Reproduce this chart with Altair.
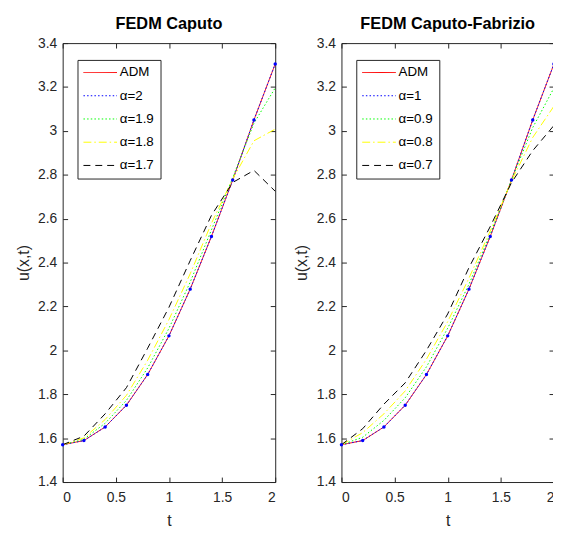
import altair as alt
import pandas as pd

# ---------------- data ----------------
t = [0.0, 0.2, 0.4, 0.6, 0.8, 1.0, 1.2, 1.4, 1.6, 1.8, 2.0]
adm = [1.570, 1.589, 1.651, 1.750, 1.890, 2.066, 2.279, 2.519, 2.776, 3.050, 3.305]

# FEDM Caputo
cap_names = ["ADM", "α=2", "α=1.9", "α=1.8", "α=1.7"]
cap_a20 = [1.570, 1.589, 1.651, 1.750, 1.890, 2.066, 2.279, 2.519, 2.776, 3.050, 3.305]
cap_a19 = [1.570, 1.595, 1.668, 1.772, 1.920, 2.100, 2.311, 2.549, 2.786, 3.035, 3.196]
cap_a18 = [1.570, 1.601, 1.685, 1.795, 1.955, 2.140, 2.349, 2.579, 2.781, 2.955, 3.008]
cap_a17 = [1.570, 1.609, 1.711, 1.830, 2.010, 2.196, 2.409, 2.615, 2.765, 2.820, 2.725]

# FEDM Caputo-Fabrizio
cf_names = ["ADM", "α=1", "α=0.9", "α=0.8", "α=0.7"]
cf_a10 = [1.570, 1.589, 1.651, 1.750, 1.890, 2.066, 2.279, 2.519, 2.776, 3.050, 3.305]
cf_a09 = [1.570, 1.604, 1.681, 1.784, 1.925, 2.101, 2.301, 2.531, 2.776, 3.015, 3.196]
cf_a08 = [1.570, 1.625, 1.711, 1.815, 1.960, 2.131, 2.329, 2.544, 2.771, 2.970, 3.113]
cf_a07 = [1.570, 1.643, 1.755, 1.852, 2.000, 2.166, 2.377, 2.564, 2.764, 2.910, 3.025]

x_ticks = [0, 0.5, 1, 1.5, 2]
y_ticks = [1.4, 1.6, 1.8, 2.0, 2.2, 2.4, 2.6, 2.8, 3.0, 3.2, 3.4]

colors = ["#ff0000", "#0000ff", "#00ff00", "#ffff00", "#000000"]
dashes = [[1, 0], [1.5, 2.2], [1.5, 2.2], [8, 3, 1.5, 3], [7, 5]]

# ---------------- layout / style ----------------
W, H = 215, 444
AX = "#262626"
FONT = "Liberation Sans"


def panel(title, names, series):
    rows = []
    for name, vals in zip(names, series):
        for ti, v in zip(t, vals):
            rows.append({"t": ti, "u": v, "series": name})
    df = pd.DataFrame(rows)
    mk = pd.DataFrame({"t": t, "u": series[1]})

    xs = alt.Scale(domain=[0, 2], nice=False, zero=False)
    ys = alt.Scale(domain=[1.4, 3.4], nice=False, zero=False)

    leg = alt.Legend(
        title=None, orient="none", legendX=15, legendY=17,
        symbolType="M-3,0H3", symbolSize=128, symbolStrokeWidth=1,
        symbolOffset=10.25, labelOffset=13,
        labelFont=FONT, labelFontSize=13.5, labelColor="#000000",
        padding=6, rowPadding=8.5, strokeColor=AX, fillColor="white",
    )

    lines = alt.Chart(df).mark_line(strokeWidth=1).encode(
        x=alt.X("t:Q", scale=xs, title="t",
                axis=alt.Axis(orient="bottom", values=x_ticks, format=".1~f",
                              ticks=False, tickSize=0, domain=False, grid=False,
                              labelPadding=9, titlePadding=7.5)),
        y=alt.Y("u:Q", scale=ys, title="u(x,t)",
                axis=alt.Axis(orient="left", values=y_ticks, format=".1~f",
                              ticks=False, tickSize=0, domain=False, grid=False,
                              labelPadding=6, titlePadding=6.5)),
        color=alt.Color("series:N", scale=alt.Scale(domain=names, range=colors), legend=leg),
        strokeDash=alt.StrokeDash("series:N", scale=alt.Scale(domain=names, range=dashes), legend=leg),
    )

    tick_axis = dict(labels=False, ticks=True, tickSize=5, tickColor=AX,
                     domain=False, grid=False)

    pts = alt.Chart(mk).mark_point(filled=True, size=12, color="#0000ff", opacity=1).encode(
        x=alt.X("t:Q", scale=xs, title=None,
                axis=alt.Axis(orient="top", offset=-H, values=x_ticks, **tick_axis)),
        y=alt.Y("u:Q", scale=ys, title=None,
                axis=alt.Axis(orient="right", offset=-W, values=y_ticks, **tick_axis)),
    )
    ghost = alt.Chart(mk).mark_point(size=1, opacity=0).encode(
        x=alt.X("t:Q", scale=xs, title=None,
                axis=alt.Axis(orient="bottom", offset=-H, values=x_ticks, **tick_axis)),
        y=alt.Y("u:Q", scale=ys, title=None,
                axis=alt.Axis(orient="left", offset=-W, values=y_ticks, **tick_axis)),
    )

    return (
        alt.layer(lines, pts, ghost)
        .resolve_axis(x="independent", y="independent")
        .properties(width=W, height=H, title=alt.TitleParams(title, frame="group"))
    )


left = panel("FEDM Caputo", cap_names, [adm, cap_a20, cap_a19, cap_a18, cap_a17])
right = panel("FEDM Caputo-Fabrizio", cf_names, [adm, cf_a10, cf_a09, cf_a08, cf_a07])

chart = (
    alt.hconcat(left, right, spacing=15)
    .resolve_scale(color="independent", strokeDash="independent")
    .properties(padding={"left": 6.3, "top": 4.5, "right": -4, "bottom": -2})
    .configure(font=FONT)
    .configure_view(stroke=AX, strokeWidth=1)
    .configure_axis(labelFont=FONT, labelFontSize=14, labelColor=AX,
                    titleFont=FONT, titleFontSize=16, titleFontWeight="normal",
                    titleColor=AX, tickColor=AX)
    .configure_title(font=FONT, fontSize=16.5, fontWeight="bold", color="#000000",
                     anchor="middle", baseline="alphabetic", offset=0)
)

chart.save("out.html", embed_options={"renderer": "svg", "actions": False})
